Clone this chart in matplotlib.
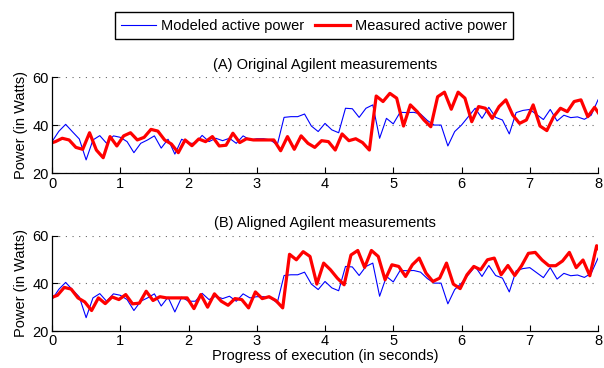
import numpy as np
import matplotlib
matplotlib.use("Agg")
import matplotlib.pyplot as plt

plt.rcParams["font.family"] = ["Liberation Sans", "DejaVu Sans"]
plt.rcParams["font.size"] = 10.5

# ------------------ DATA ------------------
# modeled power, one sample every 0.1 s from 0 to 8 s
model_time = np.round(np.arange(81) * 0.1, 2)
modeled_power = [
    33.2, 37.5, 40.4, 37.3, 34.3, 25.6, 33.9, 35.7, 32.5, 35.6,
    35.0, 33.2, 28.6, 32.5, 33.9, 35.6, 30.5, 34.2, 28.0, 34.2,
    32.5, 32.5, 35.8, 33.2, 34.6, 33.6, 34.6, 32.5, 35.6, 33.9,
    34.4, 34.4, 33.9, 31.8, 43.3, 43.6, 43.6, 44.7, 39.7, 37.4,
    40.8, 38.1, 36.9, 47.1, 46.9, 43.3, 47.1, 48.5, 34.6, 42.9,
    40.6, 45.4, 45.3, 45.4, 44.7, 42.0, 40.1, 40.1, 31.4, 37.4,
    40.1, 43.6, 47.1, 42.9, 47.5, 43.3, 42.2, 36.4, 45.3, 46.2,
    46.6, 44.5, 42.4, 46.6, 41.8, 44.2, 43.2, 43.5, 42.5, 44.2,
    50.6,
]

# measured power from the Agilent meter (raw timestamps)
meas_time = np.round(np.arange(95) * 0.1 - 0.05, 2)
measured_power = [
    32.3, 33.2, 34.6, 33.9, 30.8, 30.0, 36.9, 29.7, 26.5, 35.3,
    31.4, 35.6, 36.9, 33.9, 35.0, 38.3, 37.6, 33.9, 32.2, 28.6,
    33.9, 31.5, 34.3, 33.2, 35.3, 31.4, 31.7, 36.7, 32.8, 34.4,
    33.9, 33.9, 33.9, 33.9, 29.4, 35.3, 30.0, 35.6, 32.5, 30.8,
    33.6, 33.2, 29.7, 36.4, 33.6, 34.4, 32.8, 29.7, 52.2, 49.9,
    53.3, 51.3, 39.7, 48.5, 45.7, 42.2, 39.4, 51.9, 53.8, 46.7,
    53.8, 51.3, 41.5, 47.8, 47.1, 42.9, 47.8, 50.6, 44.3, 40.8,
    42.2, 48.5, 39.7, 37.8, 43.6, 47.1, 45.7, 49.9, 50.6, 43.6,
    47.5, 43.3, 47.4, 52.6, 53.0, 49.8, 47.4, 47.4, 49.4, 53.0,
    46.6, 49.8, 43.2, 55.8, 51.0,
]

ALIGN_LAG = 1.27  # seconds removed from meter timestamps in panel B

panel_titles = ["(A) Original Agilent measurements", "(B) Aligned Agilent measurements"]
panel_shifts = [0.0, ALIGN_LAG]
x_ticks = [0, 1, 2, 3, 4, 5, 6, 7, 8]
y_ticks = [20, 40, 60]

# ------------------ PLOT ------------------
fig = plt.figure(figsize=(6.04, 3.68), dpi=100)
ax_top = fig.add_axes([0.0861, 0.529, 0.904, 0.261])
ax_bot = fig.add_axes([0.0861, 0.1005, 0.904, 0.259])

for ax, title, shift in zip([ax_top, ax_bot], panel_titles, panel_shifts):
    h_model, = ax.plot(model_time, modeled_power, color="blue", lw=0.8)
    h_meas, = ax.plot(meas_time - shift, measured_power, color="red", lw=2.3)
    ax.set_xlim(0, 8)
    ax.set_ylim(20, 60)
    ax.set_xticks(x_ticks)
    ax.set_yticks(y_ticks)
    ax.spines["top"].set_visible(False)
    ax.spines["right"].set_visible(False)
    ax.spines["left"].set_linewidth(0.9)
    ax.spines["bottom"].set_linewidth(0.9)
    ax.tick_params(direction="in", length=4.5, width=0.8)
    ax.tick_params(axis="x", pad=2.5)
    ax.tick_params(axis="y", pad=2.5)
    ax.yaxis.grid(True, linestyle=(0, (1, 5)), color="#666666", lw=0.8)
    ax.set_axisbelow(True)
    ax.set_title(title, fontsize=10.5, pad=6)
    ax.set_ylabel("Power (in Watts)", labelpad=3)

ax_bot.set_xlabel("Progress of execution (in seconds)", labelpad=0.5)

fig.legend([h_model, h_meas], ["Modeled active power", "Measured active power"],
           loc="upper center", bbox_to_anchor=(314 / 604, 1 - 5 / 368), ncol=2,
           fancybox=False, edgecolor="black", framealpha=1, handlelength=2.4,
           handletextpad=0.3, columnspacing=0.8, borderpad=0.45)

fig.savefig("out.png", dpi=100)
